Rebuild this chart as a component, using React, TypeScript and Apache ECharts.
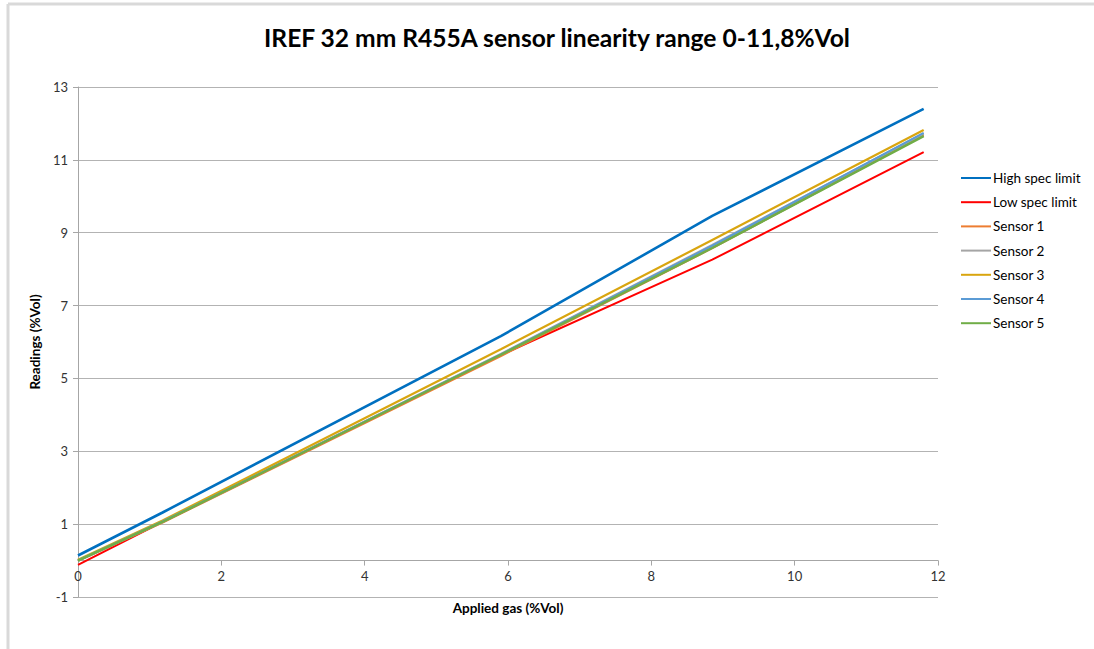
import React, { useEffect, useRef } from "react";
import * as echarts from "echarts";

const appliedGas = [0, 1.18, 5.9, 8.85, 11.8];
const highSpec = [0.14, 1.32, 6.16, 9.46, 12.4];
const lowSpec = [-0.12, 1.06, 5.64, 8.26, 11.21];
const sensor1 = [0.0, 1.05, 5.62, 8.58, 11.68];
const sensor2 = [0.0, 1.07, 5.67, 8.66, 11.72];
const sensor3 = [0.02, 1.1, 5.8, 8.8, 11.82];
const sensor4 = [0.0, 1.07, 5.66, 8.64, 11.74];
const sensor5 = [0.0, 1.06, 5.65, 8.58, 11.65];

const seriesDefs = [
  { name: "High spec limit", values: highSpec, color: "#0070C0", width: 2.6 },
  { name: "Low spec limit", values: lowSpec, color: "#FF0000", width: 2 },
  { name: "Sensor 1", values: sensor1, color: "#ED7D31", width: 2.4 },
  { name: "Sensor 2", values: sensor2, color: "#A5A5A5", width: 2.4 },
  { name: "Sensor 3", values: sensor3, color: "#D9A50F", width: 2.2 },
  { name: "Sensor 4", values: sensor4, color: "#5B9BD5", width: 2.2 },
  { name: "Sensor 5", values: sensor5, color: "#70AD47", width: 2.4 },
];

const FONT = "Lato, 'Open Sans', sans-serif";
const GRID_TOP = 87;
const GRID_BOTTOM = 52;
const H = 649;
const Y_MIN = -1;
const Y_MAX = 13;

export default function App() {
  const ref = useRef<HTMLDivElement>(null);
  useEffect(() => {
    if (!ref.current) return;
    const chart = echarts.init(ref.current, undefined, { renderer: "svg" });
    const gridH = H - GRID_TOP - GRID_BOTTOM;
    const zeroOffset = -((0 - Y_MIN) / (Y_MAX - Y_MIN)) * gridH;
    chart.setOption({
      animation: false,
      backgroundColor: "#ffffff",
      title: {
        text: "IREF 32 mm R455A sensor linearity range 0-11,8%Vol",
        left: 552,
        textAlign: "center",
        top: 20,
        textStyle: { fontFamily: FONT, fontSize: 24.6, fontWeight: "bold", color: "#000" },
      },
      legend: {
        orient: "vertical",
        left: 956,
        top: 166,
        itemWidth: 30,
        itemHeight: 14,
        itemGap: 10.2,
        icon: "path://M0,6 L30,6 L30,8 L0,8 Z",
        textStyle: { fontFamily: FONT, fontSize: 13.5, color: "#000", padding: [0, 0, 0, -3] },
        data: seriesDefs.map((s) => s.name),
      },
      grid: {
        left: 78,
        right: 156,
        top: GRID_TOP,
        bottom: GRID_BOTTOM,
        containLabel: false,
        outerBoundsMode: "none",
      },
      xAxis: {
        type: "value",
        min: 0,
        max: 12,
        interval: 2,
        offset: zeroOffset,
        name: "Applied gas (%Vol)",
        nameLocation: "middle",
        nameGap: 40,
        nameTextStyle: { fontFamily: FONT, fontSize: 13.5, fontWeight: "bold", color: "#000" },
        axisLine: { show: true, onZero: false, lineStyle: { color: "#A6A6A6", width: 1 } },
        axisTick: { show: true, length: 5, lineStyle: { color: "#A6A6A6" } },
        axisLabel: { fontFamily: FONT, fontSize: 13, color: "#333", margin: 9 },
        splitLine: { show: false },
      },
      yAxis: {
        type: "value",
        min: Y_MIN,
        max: Y_MAX,
        interval: 2,
        name: "Readings (%Vol)",
        nameLocation: "middle",
        nameGap: 34,
        nameTextStyle: { fontFamily: FONT, fontSize: 13.5, fontWeight: "bold", color: "#000" },
        axisLine: { show: true, onZero: false, lineStyle: { color: "#A6A6A6", width: 1 } },
        axisTick: { show: true, length: 5, lineStyle: { color: "#A6A6A6" } },
        axisLabel: { fontFamily: FONT, fontSize: 13, color: "#333", margin: 10 },
        splitLine: { show: true, lineStyle: { color: "#B3B3B3", width: 1 } },
      },
      graphic: [
        { type: "line", shape: { x1: 8, y1: 4, x2: 1094, y2: 4 }, style: { stroke: "#D9D9D9", lineWidth: 3 } },
        { type: "line", shape: { x1: 8, y1: 4, x2: 8, y2: 649 }, style: { stroke: "#D9D9D9", lineWidth: 3 } },
      ],
      series: seriesDefs.map((s) => ({
        name: s.name,
        type: "line",
        data: appliedGas.map((x, i) => [x, s.values[i]]),
        showSymbol: false,
        symbol: "none",
        color: s.color,
        lineStyle: { color: s.color, width: s.width },
      })),
    });
    return () => chart.dispose();
  }, []);
  return <div ref={ref} style={{ position: "fixed", left: 0, top: 0, width: 1094, height: 649 }} />;
}
